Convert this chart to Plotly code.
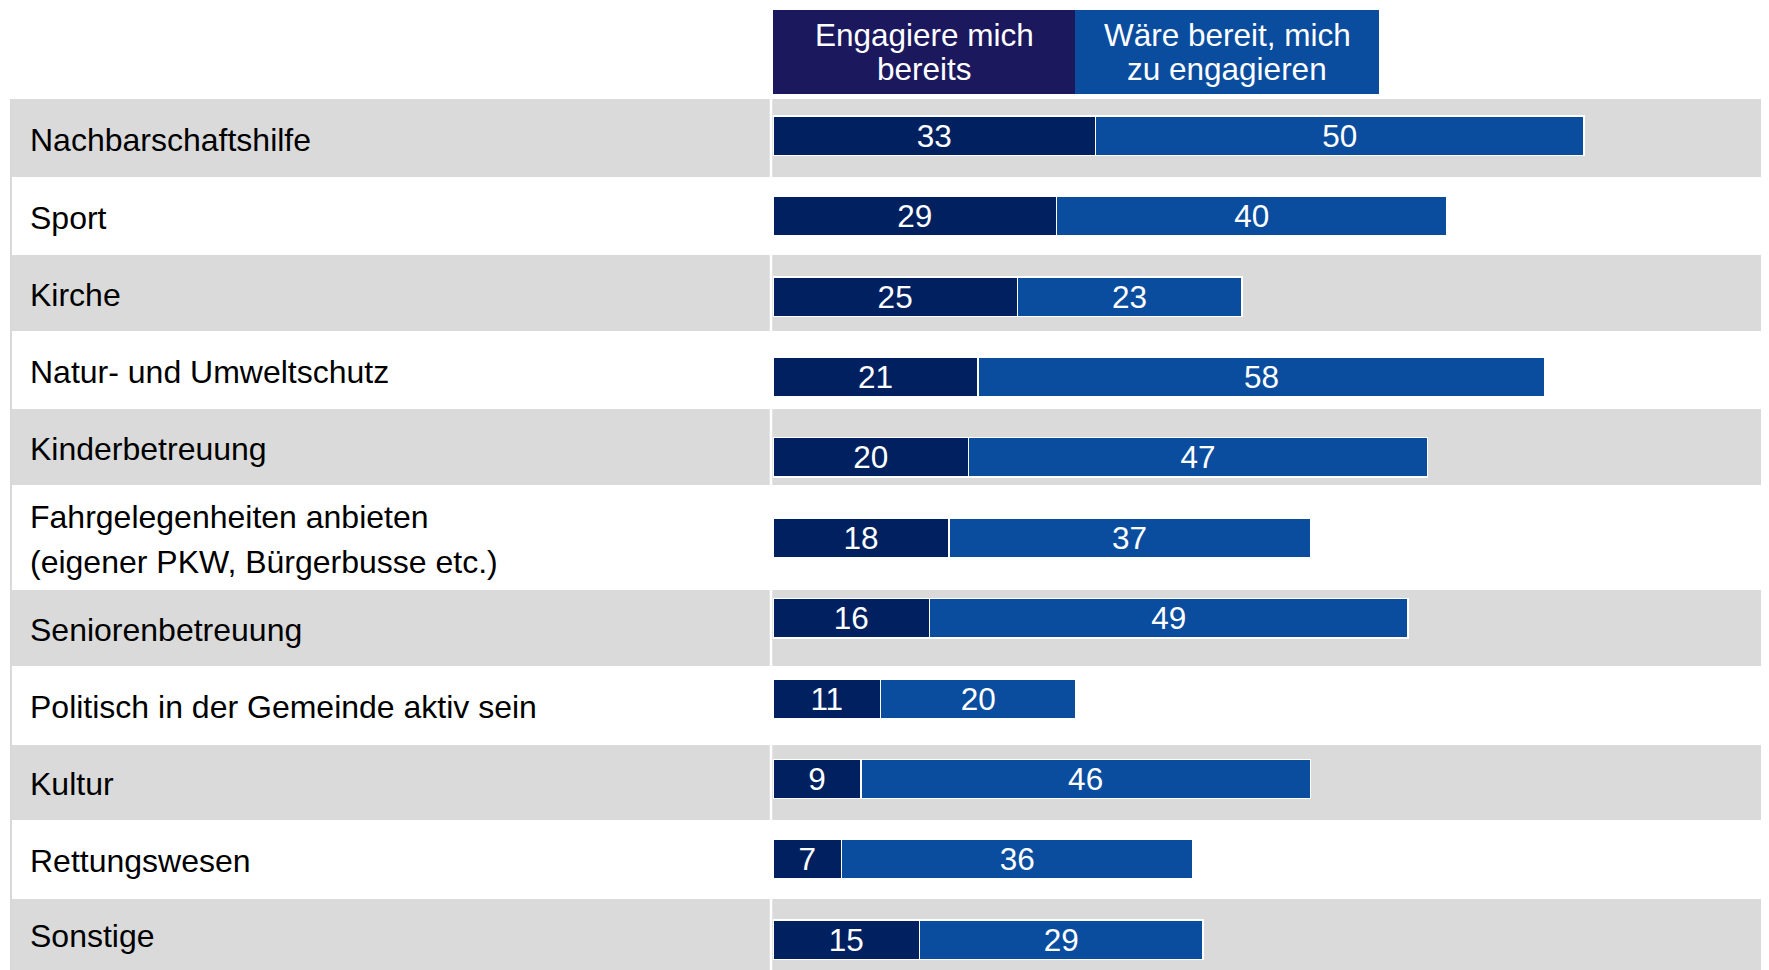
import plotly.graph_objects as go

# data
categories = ["Nachbarschaftshilfe", "Sport", "Kirche", "Natur- und Umweltschutz",
              "Kinderbetreuung", "Fahrgelegenheiten anbieten\n(eigener PKW, Bürgerbusse etc.)",
              "Seniorenbetreuung", "Politisch in der Gemeinde aktiv sein", "Kultur",
              "Rettungswesen", "Sonstige"]
engagiert = [33, 29, 25, 21, 20, 18, 16, 11, 9, 7, 15]
bereit = [50, 40, 23, 58, 47, 37, 49, 20, 46, 36, 29]
series_names = ["Engagiere mich\nbereits", "Wäre bereit, mich\nzu engagieren"]

W, H = 1769, 970
OFF = 8  # page body margin
FONT = "Arial, Liberation Sans, sans-serif"
DARK = "#002060"
BLUE = "#0a4d9f"
HEAD_DARK = "#1b185e"

# table row bands (pixel top/bottom), rows alternate grey/white
row_px = [(99, 177), (179, 253), (255, 331), (333, 407), (409, 485), (487, 588),
          (590, 666), (668, 742), (745, 820), (822, 897), (899, 980)]

def px_x(p):
    return (p - OFF) / W

def px_y(p):
    return 1 - (p - OFF) / H

fig = go.Figure()
y_idx = list(range(len(categories)))

for vals, col, name in [(engagiert, DARK, series_names[0]), (bereit, BLUE, series_names[1])]:
    fig.add_trace(go.Bar(y=y_idx, x=vals, orientation="h", name=name,
                         marker=dict(color=col, line=dict(color="white", width=1.5)),
                         width=0.49, text=vals, textposition="inside",
                         insidetextanchor="middle", textangle=0, constraintext="none",
                         textfont=dict(color="white", size=31.5, family=FONT)))

shapes = []
annotations = []
for i, (t, b) in enumerate(row_px):
    if i % 2 == 0:
        shapes.append(dict(type="rect", xref="paper", yref="paper", layer="below",
                           x0=px_x(10), x1=1.02, y0=px_y(b), y1=px_y(t),
                           fillcolor="#dadada", line=dict(width=0)))
    # category labels, possibly over two lines
    lines = categories[i].split("\n")
    mid = (min(b, 970) + t) / 2 + 1.7
    for k, ln in enumerate(lines):
        yy = mid + (k - (len(lines) - 1) / 2) * 45
        annotations.append(dict(text=ln, xref="paper", yref="paper", x=px_x(28), y=px_y(yy),
                                xanchor="left", yanchor="middle", showarrow=False,
                                font=dict(size=32, color="black", family=FONT)))

# separator between label column and bar column
shapes.append(dict(type="line", xref="paper", yref="paper", layer="below",
                   x0=px_x(771), x1=px_x(771), y0=-0.02, y1=px_y(99),
                   line=dict(color="white", width=2.5)))
shapes.append(dict(type="line", xref="paper", yref="paper", layer="below",
                   x0=px_x(11), x1=px_x(11), y0=-0.02, y1=px_y(99),
                   line=dict(color="#d9d9d9", width=2)))

# header boxes acting as legend
head_cols = [HEAD_DARK, BLUE]
head_x = [(773, 1075), (1075, 1379)]
for (x0, x1), col, name in zip(head_x, head_cols, series_names):
    shapes.append(dict(type="rect", xref="paper", yref="paper", layer="below",
                       x0=px_x(x0), x1=px_x(x1), y0=px_y(94), y1=px_y(10),
                       fillcolor=col, line=dict(width=0)))
    for k, ln in enumerate(name.split("\n")):
        annotations.append(dict(text=ln, xref="paper", yref="paper",
                                x=px_x((x0 + x1) / 2), y=px_y(35 + k * 34),
                                xanchor="center", yanchor="middle", showarrow=False,
                                font=dict(size=31.5, color="white", family=FONT)))

# axis mapping: bars start at x=773 px, 9.77 px per percent; rows 80.38 px apart
x_per = 9.77
y0c, dy = 135.9 - OFF, 80.38
fig.update_layout(
    width=W, height=H, barmode="stack", showlegend=False,
    margin=dict(l=0, r=0, t=0, b=0),
    paper_bgcolor="white", plot_bgcolor="rgba(0,0,0,0)",
    xaxis=dict(domain=[px_x(773), 1], range=[0, (W - (773 - OFF)) / x_per],
               visible=False, fixedrange=True),
    yaxis=dict(domain=[0, 1], range=[(H - y0c) / dy, -y0c / dy],
               visible=False, fixedrange=True),
    shapes=shapes, annotations=annotations,
    font=dict(family=FONT),
)

# hide page scrollbars so the bands reach the window edge
fig.write_html("out.html", post_script="document.body.style.overflow='hidden';")
